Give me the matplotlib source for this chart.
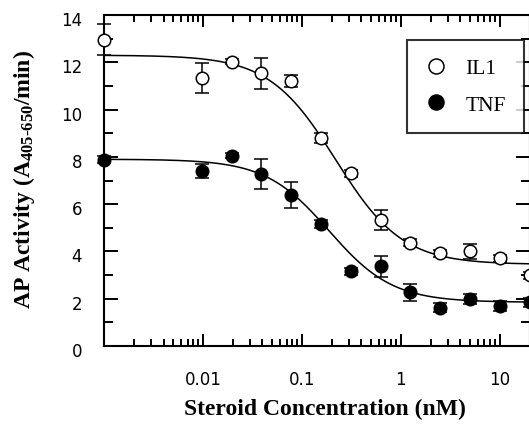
import numpy as np
import matplotlib
matplotlib.use("Agg")
import matplotlib.pyplot as plt
import matplotlib.transforms as mtransforms
from matplotlib.ticker import LogLocator, FixedLocator, FixedFormatter, MultipleLocator, NullFormatter

# ---- data ----
conc = [0.001, 0.0098, 0.0195, 0.039, 0.078, 0.156, 0.3125, 0.625, 1.25, 2.5, 5, 10, 20]
il1 = [12.95, 11.32, 12.02, 11.53, 11.2, 8.8, 7.31, 5.33, 4.36, 3.93, 4.0, 3.71, 3.0]
il1_err = [0.65, 0.63, 0.1, 0.65, 0.25, 0.2, 0.15, 0.42, 0.15, 0.15, 0.3, 0.15, 0.15]
tnf = [7.88, 7.4, 8.05, 7.27, 6.4, 5.16, 3.16, 3.37, 2.27, 1.62, 1.99, 1.7, 1.85]
tnf_err = [0.15, 0.3, 0.1, 0.65, 0.55, 0.15, 0.15, 0.44, 0.36, 0.2, 0.2, 0.2, 0.2]

# fitted logistic curve parameters: top, bottom, EC50, Hill slope
il1_fit = (12.3, 3.45, 0.22, 1.29)
tnf_fit = (7.9, 1.85, 0.188, 1.35)

xtick_vals = [0.001, 0.01, 0.1, 1, 10]
xtick_labels = ["", "0.01", "0.1", "1", "10"]
ytick_vals = [0, 2, 4, 6, 8, 10, 12, 14]
series_labels = ["IL1", "TNF"]

plt.rcParams['mathtext.fontset'] = 'custom'
plt.rcParams['mathtext.rm'] = 'Liberation Serif:bold'
plt.rcParams['mathtext.bf'] = 'Liberation Serif:bold'
plt.rcParams['mathtext.it'] = 'Liberation Serif:bold:italic'

W, H = 529, 427
fig = plt.figure(figsize=(W / 100, H / 100), dpi=100)
L, R, T, B = 104, 529.5, 16, 347
ax = fig.add_axes([L / W, 1 - B / H, (R - L) / W, (B - T) / H])

ax.set_xscale('log')
ax.set_xlim(0.001, 20)
ax.set_ylim(0, 14)


def logistic(x, p):
    top, bot, ec, h = p
    return bot + (top - bot) / (1 + (x / ec) ** h)


xf = np.logspace(np.log10(conc[0]), np.log10(conc[-1]), 400)
ax.plot(xf, logistic(xf, il1_fit), color='black', lw=1.1, zorder=2)
ax.plot(xf, logistic(xf, tnf_fit), color='black', lw=1.1, zorder=2)

ms = 9
eb1 = ax.errorbar(conc, il1, yerr=il1_err, fmt='o', mfc='white', mec='black', mew=1.1,
                  ms=ms, ecolor='black', elinewidth=1.1, capsize=4.7, capthick=1.1,
                  zorder=3, clip_on=False)
eb2 = ax.errorbar(conc, tnf, yerr=tnf_err, fmt='o', mfc='black', mec='black', mew=1.1,
                  ms=ms, ecolor='black', elinewidth=1.1, capsize=4.7, capthick=1.1,
                  zorder=3, clip_on=False)

# ticks
ax.xaxis.set_major_locator(FixedLocator(xtick_vals))
ax.xaxis.set_major_formatter(FixedFormatter(xtick_labels))
ax.xaxis.set_minor_locator(LogLocator(base=10, subs=np.arange(2, 10), numticks=20))
ax.xaxis.set_minor_formatter(NullFormatter())
ax.yaxis.set_major_locator(FixedLocator(ytick_vals))
ax.yaxis.set_minor_locator(MultipleLocator(1))

ax.tick_params(axis='both', which='both', direction='in', top=True, right=True, width=1.4)
ax.tick_params(axis='y', which='major', length=10, pad=15.8)
ax.tick_params(axis='y', which='minor', length=6.5)
ax.tick_params(axis='x', which='major', length=8.6, pad=17.5)
ax.tick_params(axis='x', which='minor', length=5)
for lab in ax.get_xticklabels() + ax.get_yticklabels():
    lab.set_fontfamily('DejaVu Sans')
    lab.set_fontsize(12)
# y tick labels sit slightly below their ticks in the original
shift = mtransforms.ScaledTranslation(0, -3 / 100, fig.dpi_scale_trans)
for t in ax.yaxis.get_major_ticks():
    t.label1.set_transform(t.label1.get_transform() + shift)
for sp in ax.spines.values():
    sp.set_linewidth(1.5)

ax.set_xlabel('Steroid Concentration (nM)', family='Liberation Serif', weight='bold', fontsize=17)
ax.set_ylabel(r'AP Activity (A$_{\mathrm{405\text{-}650}}$/min)', family='Liberation Serif',
              weight='bold', fontsize=17)
ax.xaxis.set_label_coords((325 - L) / (R - L), -(399 - B) / (B - T))
ax.yaxis.set_label_coords(-(L - 37) / (R - L), (B - 180) / (B - T))

leg = ax.legend(handles=[eb1.lines[0], eb2.lines[0]], labels=series_labels,
                loc='upper left', bbox_to_anchor=(407 / W, 1 - 41 / H),
                bbox_transform=fig.transFigure, frameon=True, fancybox=False,
                prop={'family': 'Liberation Serif', 'size': 15.5},
                borderpad=0.84, labelspacing=0.76, handletextpad=0.84, handlelength=1.02,
                borderaxespad=0, markerscale=1.2)
leg.get_frame().set_edgecolor('black')
leg.get_frame().set_linewidth(1.5)
leg.set_zorder(5)

fig.savefig('out.png', dpi=100)
